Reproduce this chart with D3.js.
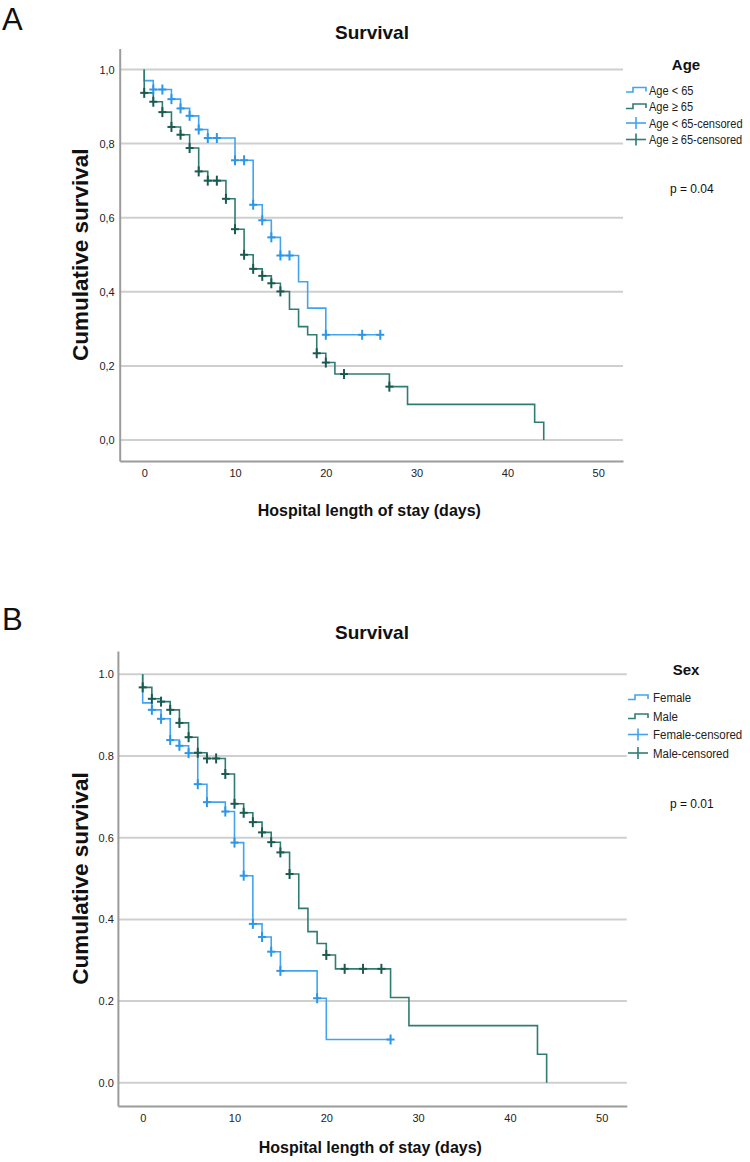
<!DOCTYPE html>
<html>
<head>
<meta charset="utf-8">
<script src="https://cdn.jsdelivr.net/npm/d3@7"></script>
<style>
  html, body { margin: 0; padding: 0; background: #fff; }
  svg { display: block; }
</style>
</head>
<body>
<svg id="chart" width="750" height="1162"></svg>
<script>
// ---------- DATA ----------
const xTicks = [0, 10, 20, 30, 40, 50];
const yTicks = [0, 0.2, 0.4, 0.6, 0.8, 1.0];

// Panel A : Age
const ageLt65Times = [0, 1, 3, 4, 5, 6, 7, 10, 12, 13, 14, 15, 17, 18, 20];
const ageLt65Surv  = [0.970, 0.946, 0.920, 0.895, 0.875, 0.838, 0.815, 0.755, 0.635, 0.593, 0.547, 0.498, 0.427, 0.356, 0.284];
const ageLt65End = 26;
const ageLt65Censored = [1, 2, 3, 4, 5, 6, 7, 8, 10, 11, 12, 13, 14, 15, 16, 20, 24, 26];

const ageGe65Times = [0, 1, 2, 3, 4, 5, 6, 7, 9, 10, 11, 12, 13, 14, 15, 16, 17, 18, 19, 20, 21, 27, 29, 43, 44];
const ageGe65Surv  = [0.937, 0.913, 0.885, 0.845, 0.824, 0.788, 0.725, 0.700, 0.651, 0.569, 0.500, 0.462, 0.443, 0.423, 0.401, 0.353, 0.306, 0.284, 0.234, 0.209, 0.178, 0.144, 0.096, 0.048, 0];
const ageGe65End = 44;
const ageGe65Censored = [0, 1, 2, 3, 4, 5, 6, 7, 8, 9, 10, 11, 12, 13, 14, 15, 19, 20, 22, 27];

// Panel B : Sex
const femaleTimes = [0, 1, 2, 3, 4, 5, 6, 7, 9, 10, 11, 12, 13, 14, 15, 19, 20];
const femaleSurv  = [0.930, 0.913, 0.891, 0.839, 0.825, 0.807, 0.731, 0.687, 0.664, 0.588, 0.507, 0.389, 0.357, 0.321, 0.274, 0.207, 0.106];
const femaleEnd = 27;
const femaleCensored = [1, 2, 3, 4, 5, 6, 7, 9, 10, 11, 12, 13, 14, 15, 19, 27];

const maleTimes = [0, 1, 2, 3, 4, 5, 6, 7, 9, 10, 11, 12, 13, 14, 15, 16, 17, 18, 19, 20, 21, 27, 29, 43, 44];
const maleSurv  = [0.968, 0.940, 0.933, 0.913, 0.881, 0.846, 0.808, 0.794, 0.756, 0.683, 0.661, 0.638, 0.613, 0.589, 0.564, 0.511, 0.427, 0.370, 0.341, 0.313, 0.279, 0.209, 0.140, 0.070, 0];
const maleEnd = 44;
const maleCensored = [0, 1, 2, 3, 4, 5, 6, 7, 8, 9, 10, 11, 12, 13, 14, 15, 16, 20, 22, 24, 26];

const panelALetter = "A", panelBLetter = "B";
const chartTitle = "Survival";
const xTitle = "Hospital length of stay (days)";
const yTitle = "Cumulative survival";
const ageLegendTitle = "Age";
const ageLabels = ["Age < 65", "Age ≥ 65", "Age < 65-censored", "Age ≥ 65-censored"];
const sexLegendTitle = "Sex";
const sexLabels = ["Female", "Male", "Female-censored", "Male-censored"];
const pAge = "p = 0.04";
const pSex = "p = 0.01";

// ---------- STYLE ----------
const BLUE = "#42a4ee", BLUE_C = "#2c97e6";
const GREEN = "#2f7c73", GREEN_C = "#1a5a51";
const GRID = "#cfcfcf", AXIS = "#9c9c9c";
const SANS = "'Liberation Sans',Arial,Helvetica,sans-serif";

const svg = d3.select("#chart");

function survAt(times, surv, t) {
  let s = 1;
  for (let i = 0; i < times.length; i++) if (times[i] <= t) s = surv[i];
  return s;
}

function stepPoints(times, surv, end) {
  const pts = [[0, 1]];
  let prev = 1;
  times.forEach((t, i) => { pts.push([t, prev]); pts.push([t, surv[i]]); prev = surv[i]; });
  const last = times[times.length - 1];
  if (end > last) pts.push([end, prev]);
  return pts;
}

function drawPanel(cfg) {
  const g = svg.append("g");
  const x = d3.scaleLinear().domain([-2.7, 52.73]).range(cfg.xRange);
  const y = d3.scaleLinear().domain([-0.057, 1.057]).range(cfg.yRange);

  g.append("text").attr("x", 2).attr("y", cfg.letterY)
    .attr("font-family", SANS).attr("font-size", 31).attr("fill", "#111")
    .text(cfg.letter);

  g.append("text").attr("x", 372).attr("y", cfg.titleY).attr("text-anchor", "middle")
    .attr("font-family", SANS).attr("font-weight", "bold").attr("font-size", 19).attr("fill", "#111")
    .text(chartTitle);

  g.append("g").selectAll("line").data(yTicks).join("line")
    .attr("x1", cfg.xRange[0]).attr("x2", cfg.xRange[1])
    .attr("y1", d => y(d)).attr("y2", d => y(d))
    .attr("stroke", GRID).attr("stroke-width", 2);

  const yAxis = d3.axisLeft(y).tickValues(yTicks).tickSize(0).tickSizeOuter(0).tickPadding(cfg.yPad)
    .tickFormat(d => cfg.fmt(d));
  const ya = g.append("g").attr("transform", `translate(${cfg.xRange[0]},0)`).call(yAxis);
  ya.select(".domain").attr("stroke", AXIS).attr("stroke-width", 2);
  ya.selectAll("text").attr("font-family", SANS).attr("font-size", 11).attr("fill", "#222");

  const xAxis = d3.axisBottom(x).tickValues(xTicks).tickSize(0).tickSizeOuter(0).tickPadding(8);
  const xa = g.append("g").attr("transform", `translate(0,${cfg.yRange[0]})`).call(xAxis);
  xa.select(".domain").attr("stroke", AXIS).attr("stroke-width", 2);
  xa.selectAll("text").attr("font-family", SANS).attr("font-size", 11).attr("fill", "#222");

  g.append("text").attr("x", (cfg.xRange[0] + cfg.xRange[1]) / 2 - 2).attr("y", cfg.xTitleY)
    .attr("text-anchor", "middle").attr("font-family", SANS).attr("font-weight", "bold")
    .attr("font-size", 16).attr("fill", "#111").text(xTitle);
  const yMid = (cfg.yRange[0] + cfg.yRange[1]) / 2;
  g.append("text").attr("transform", `translate(${cfg.yTitleX},${yMid}) rotate(-90)`)
    .attr("text-anchor", "middle").attr("font-family", SANS).attr("font-weight", "bold")
    .attr("font-size", 22.5).attr("fill", "#111").text(yTitle);

  const line = d3.line().x(d => x(d[0])).y(d => y(d[1]));
  cfg.series.forEach(s => {
    g.append("path").datum(stepPoints(s.times, s.surv, s.end))
      .attr("d", line).attr("fill", "none").attr("stroke", s.color).attr("stroke-width", 1.6);
  });
  cfg.series.forEach(s => {
    const cg = g.append("g");
    s.censored.forEach(t => {
      const cx = x(t), cy = y(survAt(s.times, s.surv, t));
      cg.append("line").attr("x1", cx).attr("x2", cx).attr("y1", cy - 5).attr("y2", cy + 5)
        .attr("stroke", s.ccolor).attr("stroke-width", 2);
      cg.append("line").attr("x1", cx - 4).attr("x2", cx + 4).attr("y1", cy).attr("y2", cy)
        .attr("stroke", s.ccolor).attr("stroke-width", 2);
    });
  });

  const lg = g.append("g");
  lg.append("text").attr("x", 686).attr("y", cfg.legTitleY).attr("text-anchor", "middle")
    .attr("font-family", SANS).attr("font-weight", "bold").attr("font-size", 15).attr("fill", "#111")
    .text(cfg.legTitle);
  cfg.labels.forEach((lab, i) => {
    const cy = cfg.legY[i];
    const col = i % 2 === 0 ? BLUE : GREEN;
    if (i < 2) {
      lg.append("path")
        .attr("d", `M${cfg.symX},${cy + 2} H${cfg.symX + 7} V${cy - 2.5} H${cfg.symX + 20} V${cy + 1.5}`)
        .attr("fill", "none").attr("stroke", col).attr("stroke-width", 1.6);
    } else {
      lg.append("line").attr("x1", cfg.symX).attr("x2", cfg.symX + 20).attr("y1", cy).attr("y2", cy)
        .attr("stroke", col).attr("stroke-width", 1.6);
      lg.append("line").attr("x1", cfg.symX + 10).attr("x2", cfg.symX + 10).attr("y1", cy - 6).attr("y2", cy + 6)
        .attr("stroke", col).attr("stroke-width", 1.6);
    }
    lg.append("text").attr("transform", `translate(${cfg.textX},${cy + 4.5}) scale(0.85,1)`)
      .attr("font-family", SANS).attr("font-size", cfg.legFont).attr("fill", "#222").text(lab);
  });
  lg.append("text").attr("x", 670).attr("y", cfg.pY)
    .attr("font-family", SANS).attr("font-size", 12).attr("fill", "#111").text(cfg.pText);
}

drawPanel({
  letter: panelALetter, letterY: 30, titleY: 39,
  xRange: [119.7, 623], yRange: [461.1, 48.4],
  fmt: d => d3.format(".1f")(d).replace(".", ","), yPad: 5,
  xTitleY: 516, yTitleX: 88,
  series: [
    { times: ageLt65Times, surv: ageLt65Surv, end: ageLt65End, censored: ageLt65Censored, color: BLUE, ccolor: BLUE_C },
    { times: ageGe65Times, surv: ageGe65Surv, end: ageGe65End, censored: ageGe65Censored, color: GREEN, ccolor: GREEN_C }
  ],
  legTitle: ageLegendTitle, legTitleY: 70, labels: ageLabels, legFont: 13,
  legY: [90, 106.5, 123, 139.5], symX: 626, textX: 649,
  pText: pAge, pY: 193
});

drawPanel({
  letter: panelBLetter, letterY: 630, titleY: 639,
  xRange: [117.9, 626.8], yRange: [1106.1, 651.0],
  fmt: d => d3.format(".1f")(d), yPad: 4,
  xTitleY: 1153, yTitleX: 88,
  series: [
    { times: femaleTimes, surv: femaleSurv, end: femaleEnd, censored: femaleCensored, color: BLUE, ccolor: BLUE_C },
    { times: maleTimes, surv: maleSurv, end: maleEnd, censored: maleCensored, color: GREEN, ccolor: GREEN_C }
  ],
  legTitle: sexLegendTitle, legTitleY: 675, labels: sexLabels, legFont: 13.5,
  legY: [697.5, 716.5, 734.5, 753], symX: 628, textX: 653,
  pText: pSex, pY: 808
});
</script>
</body>
</html>
